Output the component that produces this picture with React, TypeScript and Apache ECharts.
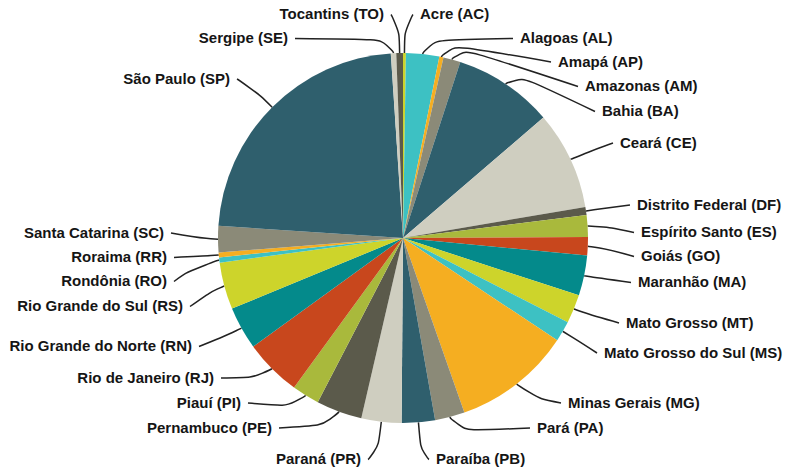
import React, { useEffect, useRef } from 'react';
import * as echarts from 'echarts';

const STATES = [
  'Acre (AC)', 'Alagoas (AL)', 'Amapá (AP)', 'Amazonas (AM)', 'Bahia (BA)', 'Ceará (CE)',
  'Distrito Federal (DF)', 'Espírito Santo (ES)', 'Goiás (GO)', 'Maranhão (MA)', 'Mato Grosso (MT)',
  'Mato Grosso do Sul (MS)', 'Minas Gerais (MG)', 'Pará (PA)', 'Paraíba (PB)', 'Paraná (PR)',
  'Pernambuco (PE)', 'Piauí (PI)', 'Rio de Janeiro (RJ)', 'Rio Grande do Norte (RN)',
  'Rio Grande do Sul (RS)', 'Rondônia (RO)', 'Roraima (RR)', 'Santa Catarina (SC)',
  'São Paulo (SP)', 'Sergipe (SE)', 'Tocantins (TO)',
];

const SHARES = [
  0.25, 2.9, 0.36, 1.5, 8.7, 8.6,
  0.7, 1.9, 1.6, 3.5, 2.5,
  1.8, 10.3, 2.6, 2.9, 3.5,
  4.0, 2.4, 5.0, 3.75,
  4.1, 0.45, 0.42, 2.3,
  22.9, 0.47, 0.58,
];

const PALETTE = [
  '#cdd42b', '#3dc1c3', '#f5ae21', '#8b8a78', '#2f5f6d',
  '#cfcec0', '#5b5a4b', '#a9b93c', '#c8471d', '#048a8b',
];

// label anchor positions (x = start for right side, end for left side)
const LABEL_X = [
  420, 520, 558, 585, 602, 620,
  637, 641, 641, 638, 626,
  604, 568, 537, 436, 361,
  272, 241, 214, 192,
  183, 167, 167, 164,
  230, 288, 384,
];
const LABEL_Y = [
  13.5, 37.5, 61, 85.5, 110.5, 142,
  204, 231.5, 255.5, 281.5, 322,
  352, 402, 427, 458.5, 458.5,
  427, 402, 377, 345.5,
  305.5, 280.5, 256.5, 232,
  78, 37.5, 13.5,
];
const LABEL_SIDE = [
  1, 1, 1, 1, 1, 1,
  1, 1, 1, 1, 1,
  1, 1, 1, 1, -1,
  -1, -1, -1, -1,
  -1, -1, -1, -1,
  -1, -1, -1,
];
const LEADER_T = [
  30, 14, 14, 14, 14, 20,
  8, 12, 12, 5, 10,
  12, 16, 15, 33, 33,
  14, 14, 12, 10,
  8, 20, 8, 12,
  30, 14, 30,
];

const CX = 403;
const CY = 238;
const R = 185;
const GAP = 7;

export default function App() {
  const ref = useRef<HTMLDivElement>(null);
  useEffect(() => {
    document.body.style.margin = '0';
    const chart = echarts.init(ref.current as HTMLDivElement, null, { renderer: 'svg' });
    chart.setOption({
      animation: false,
      backgroundColor: '#ffffff',
      color: PALETTE,
      series: [
        {
          type: 'pie',
          center: [CX, CY],
          radius: R,
          startAngle: 90,
          clockwise: true,
          avoidLabelOverlap: false,
          itemStyle: { borderWidth: 0 },
          label: {
            show: true,
            position: 'outside',
            color: '#151515',
            fontSize: 15,
            fontWeight: 'bold',
            fontFamily: 'Liberation Sans, Arial, sans-serif',
          },
          labelLine: {
            show: true,
            smooth: 0.9,
            lineStyle: { color: '#222222', width: 1.5 },
          },
          labelLayout: (params: any) => {
            const i = params.dataIndex;
            const side = LABEL_SIDE[i];
            const lx = LABEL_X[i];
            const ly = LABEL_Y[i];
            const out: any = {
              x: lx,
              y: ly,
              align: side > 0 ? 'left' : 'right',
              verticalAlign: 'middle',
            };
            const pts = params.labelLinePoints;
            if (pts && pts.length) {
              const p0 = pts[0];
              const dx = p0[0] - CX;
              const dy = p0[1] - CY;
              const len = Math.hypot(dx, dy) || 1;
              const t = LEADER_T[i];
              const p1 = [p0[0] + (dx / len) * t, p0[1] + (dy / len) * t];
              out.labelLinePoints = [p0, p1, [lx - side * GAP, ly + 1]];
            }
            return out;
          },
          data: STATES.map((name, i) => ({ name, value: SHARES[i] })),
        },
      ],
    });
    return () => chart.dispose();
  }, []);
  return <div ref={ref} style={{ width: 786, height: 470 }} />;
}
